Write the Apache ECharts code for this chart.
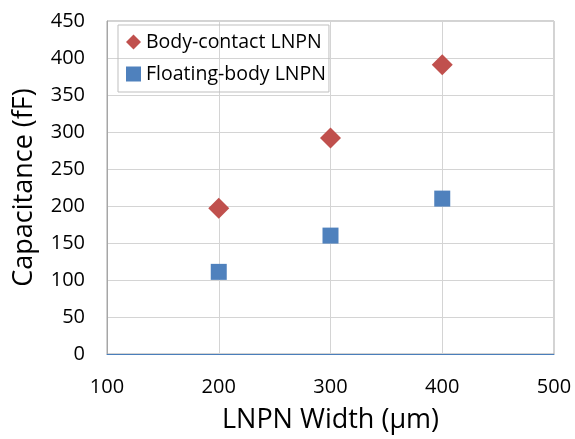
<!DOCTYPE html>
<html>
<head>
<meta charset="utf-8">
<script src="https://cdn.jsdelivr.net/npm/echarts@6/dist/echarts.min.js"></script>
<style>
  html, body { margin: 0; padding: 0; background: #fff; }
  #chart { width: 575px; height: 439px; }
</style>
</head>
<body>
<div id="chart"></div>
<script>
// LNPN width (µm) and measured capacitance (fF)
const widths = [200, 300, 400];
const bodyContact = [197, 292, 391];
const floatingBody = [111, 160, 210];
const seriesNames = ['Body-contact LNPN', 'Floating-body LNPN'];

const FONT = 'Open Sans';

const chart = echarts.init(document.getElementById('chart'), null, { renderer: 'canvas' });

chart.setOption({
  backgroundColor: '#fff',
  animation: false,
  textStyle: { fontFamily: FONT, color: '#000' },
  grid: {
    left: 107, right: 21, top: 21, bottom: 81,
    show: true, borderColor: '#a6a6a6', borderWidth: 1
  },
  legend: {
    orient: 'vertical',
    left: 118, top: 25,
    padding: [6, 3, 7, 8],
    itemGap: 10,
    itemWidth: 15, itemHeight: 15,
    borderColor: '#bfbfbf', borderWidth: 1,
    textStyle: { fontFamily: FONT, fontSize: 19.5, color: '#000', lineHeight: 22 },
    itemStyle: { opacity: 1 },
    data: [
      { name: seriesNames[0], icon: 'diamond' },
      { name: seriesNames[1], icon: 'rect' }
    ]
  },
  xAxis: {
    type: 'value',
    min: 100, max: 500, interval: 100,
    name: 'LNPN Width (µm)',
    nameLocation: 'middle',
    nameGap: 53,
    nameTextStyle: { fontFamily: FONT, fontSize: 27, color: '#000' },
    axisLine: { show: true, lineStyle: { color: '#4a7ebb', width: 1 } },
    axisTick: { show: false },
    axisLabel: { fontFamily: FONT, fontSize: 20, color: '#000', margin: 23 },
    splitLine: { show: true, lineStyle: { color: '#d4d4d4', width: 1 } }
  },
  yAxis: {
    type: 'value',
    min: 0, max: 450, interval: 50,
    name: 'Capacitance (fF)',
    nameLocation: 'middle',
    nameRotate: 90,
    nameGap: 69,
    nameTextStyle: { fontFamily: FONT, fontSize: 27, color: '#000' },
    axisLine: { show: true, lineStyle: { color: '#a6a6a6', width: 1 } },
    axisTick: { show: false },
    axisLabel: { fontFamily: FONT, fontSize: 20, color: '#000', margin: 22 },
    splitLine: { show: true, lineStyle: { color: '#d4d4d4', width: 1 } }
  },
  series: [
    {
      name: seriesNames[0],
      type: 'scatter',
      symbol: 'diamond',
      symbolSize: [21, 21],
      itemStyle: { color: '#c0504d', opacity: 1 },
      data: widths.map((w, i) => [w, bodyContact[i]])
    },
    {
      name: seriesNames[1],
      type: 'scatter',
      symbol: 'rect',
      symbolSize: [16, 16],
      itemStyle: { color: '#4f81bd', opacity: 1 },
      data: widths.map((w, i) => [w, floatingBody[i]])
    }
  ]
});
</script>
</body>
</html>
